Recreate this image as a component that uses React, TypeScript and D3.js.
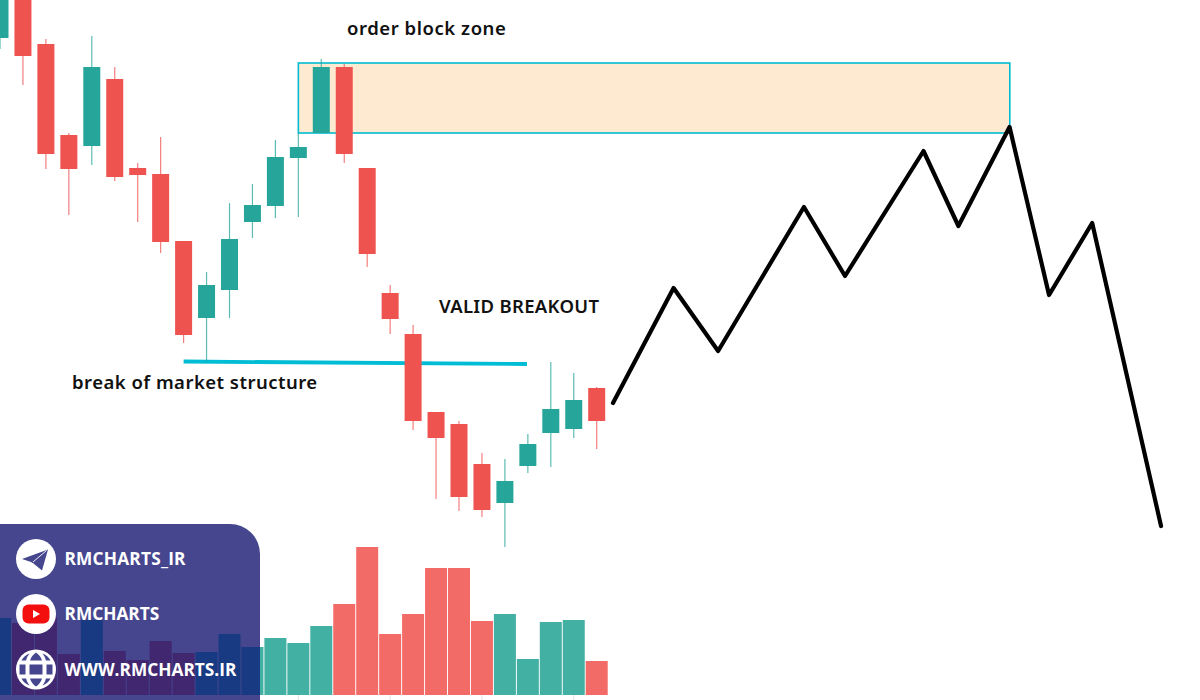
import React from 'react';
import * as d3 from 'd3';

const opens = [662, 720, 656, 565, 554, 621, 532, 526, 459, 382, 410, 478, 494, 542, 567, 633, 532, 407, 366, 288, 276, 236, 197, 234, 267, 271, 312];
const closes = [710, 644, 546, 531, 633, 523, 525, 458, 365, 415, 461, 495, 543, 553, 633, 546, 446, 381, 279, 262, 203, 190, 219, 256, 291, 300, 279];
const highs = [720, 730, 661, 567, 664, 633, 537, 563, 459, 428, 497, 516, 560, 567, 641, 636, 532, 415, 375, 288, 279, 247, 241, 266, 338, 327, 313];
const lows = [651, 615, 531, 485, 535, 519, 478, 447, 357, 339, 382, 462, 482, 483, 567, 537, 433, 366, 270, 201, 189, 183, 153, 227, 233, 262, 251];
const volumes = [77, 72, 78, 41, 75, 44, 35, 54, 42, 43, 61, 48, 57, 52, 69, 91, 148, 61, 81, 127, 127, 74, 81, 36, 73, 75, 34];
const tickBars = [13, 17, 21, 25];

// Expected move after the last candle: [bar, price]
const projection: [number, number][] = [
  [26.71, 297], [29.35, 412], [31.29, 349], [35.03, 493], [36.82, 424], [40.24, 549],
  [41.76, 474], [43.99, 573], [45.71, 405], [47.59, 477], [50.59, 174]
];
const structureLine: [number, number][] = [[8, 338.5], [22.96, 336]];
const zoneBars = [13, 44];
const zonePrices = [637, 567];

const UP = '#26a69a';
const DOWN = '#ef5350';
const PANEL = '#46468f';

const CONTACTS = ['RMCHARTS_IR', 'RMCHARTS', 'WWW.RMCHARTS.IR'];

const x = d3.scaleLinear().domain([0, 26]).range([0, 596.7]);
const y = d3.scaleLinear().domain([0, 700]).range([700, 0]);
const yVol = d3.scaleLinear().domain([0, 695]).range([695, 0]);

const BODY_W = 17;
const VOL_W = 22;

const panelPath = () => {
  const p = d3.path();
  p.moveTo(0, 524);
  p.lineTo(230, 524);
  p.arcTo(260, 524, 260, 554, 30);
  p.lineTo(260, 700);
  p.lineTo(0, 700);
  p.closePath();
  return p.toString();
};

const Icons = () => (
  <g>
    <g transform="translate(36,559)">
      <circle r={20} fill="#fff" />
      <path d="M-14,0 L12,-9.5 L6,11.5 L-2.5,4.5 L-5,3 Z" fill={PANEL} />
      <path d="M10.5,-8.5 L-3,3" stroke="#fff" strokeWidth={0.9} fill="none" />
    </g>
    <g transform="translate(36,614)">
      <circle r={20} fill="#fff" />
      <rect x={-13.5} y={-9.5} width={27} height={19} rx={6} fill="#f40f0f" />
      <path d="M-3,-4 L4,0 L-3,4 Z" fill="#fff" />
    </g>
    <g transform="translate(36,669.5)">
      <circle r={20} fill="#fff" />
      <g fill={PANEL}>
        <rect x={-16.5} y={-5} width={6} height={10} />
        <rect x={-6.5} y={-5} width={13} height={10} />
        <rect x={10.5} y={-5} width={6} height={10} />
        <path d="M-6,-9 Q-4.5,-14 0,-17 Q4.5,-14 6,-9 Z" />
        <path d="M-6,9 Q-4.5,14 0,17 Q4.5,14 6,9 Z" />
        <path d="M-14.5,-9 L-10,-9 Q-9,-13 -6.5,-16 Q-12,-14 -14.5,-9 Z" />
        <path d="M14.5,-9 L10,-9 Q9,-13 6.5,-16 Q12,-14 14.5,-9 Z" />
        <path d="M-14.5,9 L-10,9 Q-9,13 -6.5,16 Q-12,14 -14.5,9 Z" />
        <path d="M14.5,9 L10,9 Q9,13 6.5,16 Q12,14 14.5,9 Z" />
      </g>
    </g>
  </g>
);

export default function App() {
  const lineGen = d3.line<[number, number]>().x(d => x(d[0])).y(d => y(d[1]));
  const isUp = (i: number) => closes[i] > opens[i];
  const volBars = (colors: [string, string]) =>
    volumes.map((v, i) => (
      <rect
        key={i}
        x={x(i) - VOL_W / 2}
        y={yVol(v)}
        width={VOL_W}
        height={yVol(0) - yVol(v)}
        fill={isUp(i) ? colors[0] : colors[1]}
      />
    ));

  return (
    <svg
      width={1200}
      height={700}
      style={{ position: 'absolute', left: 0, top: 0, background: '#fff' }}
    >
      <defs>
        <clipPath id="panel-clip">
          <path d={panelPath()} />
        </clipPath>
      </defs>

      {/* order block zone */}
      <rect
        x={x(zoneBars[0])}
        y={y(zonePrices[0])}
        width={x(zoneBars[1]) - x(zoneBars[0])}
        height={y(zonePrices[1]) - y(zonePrices[0])}
        fill="#fdead0"
        stroke="#00bcd0"
        strokeWidth={1.6}
      />

      {/* volume */}
      <g>{volBars(['#42b0a3', '#f36b67'])}</g>
      {tickBars.map(b => (
        <line key={b} x1={x(b)} x2={x(b)} y1={695} y2={700} stroke="#e4e4e4" />
      ))}

      {/* structure line */}
      <path d={lineGen(structureLine) ?? ''} fill="none" stroke="#00bcd4" strokeWidth={3.8} />

      {/* candles */}
      {opens.map((o, i) => {
        const c = closes[i];
        const color = isUp(i) ? UP : DOWN;
        const top = y(Math.max(o, c));
        const bottom = y(Math.min(o, c));
        return (
          <g key={i}>
            <line
              x1={x(i)}
              x2={x(i)}
              y1={y(highs[i])}
              y2={y(lows[i])}
              stroke={color}
              strokeOpacity={0.75}
              strokeWidth={1.2}
            />
            <rect x={x(i) - BODY_W / 2} y={top} width={BODY_W} height={bottom - top} fill={color} />
          </g>
        );
      })}

      {/* projected path */}
      <path
        d={lineGen(projection) ?? ''}
        fill="none"
        stroke="#000"
        strokeWidth={4.2}
        strokeLinejoin="round"
        strokeLinecap="round"
      />

      <g fontFamily="'Noto Sans'" fontWeight={600} fill="#111">
        <text x={347} y={35} fontSize={18.5} letterSpacing={0.55}>order block zone</text>
        <text x={439} y={312.5} fontSize={18.5} letterSpacing={0.3}>VALID BREAKOUT</text>
        <text x={72} y={389} fontSize={18.5} letterSpacing={0.47}>break of market structure</text>
      </g>

      {/* contact panel */}
      <path d={panelPath()} fill={PANEL} />
      <g clipPath="url(#panel-clip)">{volBars(['#173a82', '#412670'])}</g>
      <Icons />
      <g fontFamily="'Open Sans'" fontWeight={700} fontSize={17.3} fill="#fff">
        {CONTACTS.map((t, i) => (
          <text key={t} x={64.5} y={[565, 620, 675.5][i]} letterSpacing={i === 0 ? 0.2 : 0}>{t}</text>
        ))}
      </g>
    </svg>
  );
}
